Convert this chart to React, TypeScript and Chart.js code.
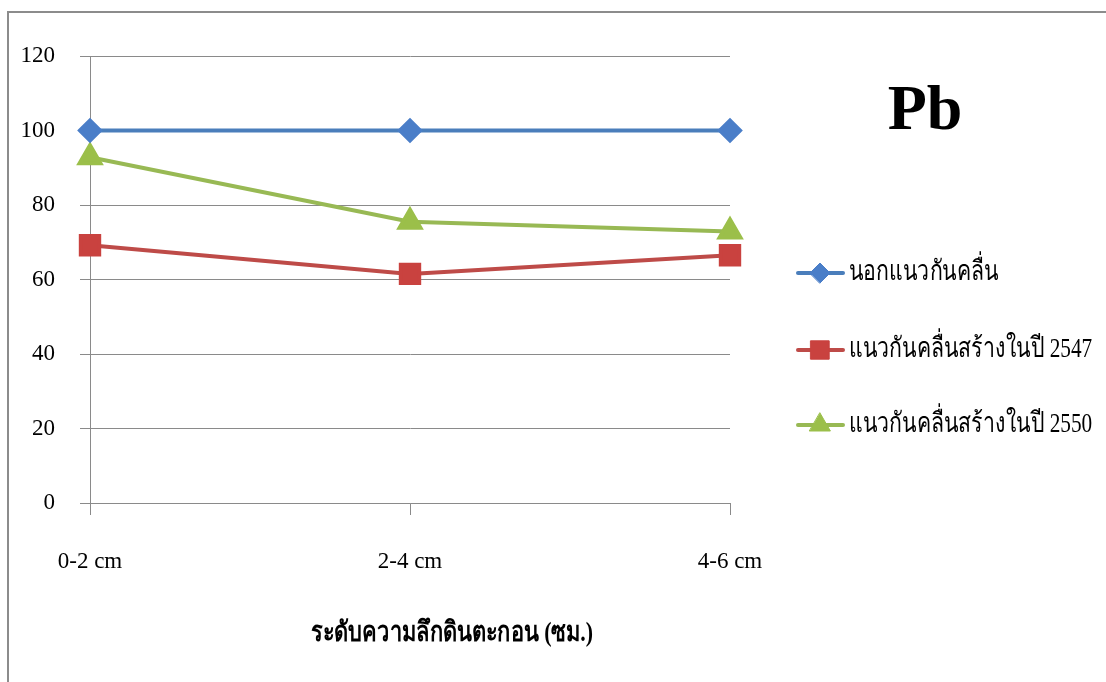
import React, { useEffect, useRef } from "react";
import { Chart, registerables } from "chart.js";
import { drawPoint } from "chart.js/helpers";

Chart.register(...registerables);

// Depth categories and Pb values for each site
const depthLabels = ["0-2 cm", "2-4 cm", "4-6 cm"];
const outsideBreakwater = [100, 100, 100];
const breakwater2547 = [69.2, 61.5, 66.5];
const breakwater2550 = [92.8, 75.5, 72.9];
const seriesNames = [
  "นอกแนวกันคลื่น",
  "แนวกันคลื่นสร้างในปี 2547",
  "แนวกันคลื่นสร้างในปี 2550",
];
const yTickValues = [0, 20, 40, 60, 80, 100, 120];
const chartTitle = "Pb";
const xAxisTitle = "ระดับความลึกดินตะกอน (ซม.)";

const W = 1106;
const H = 682;
const SERIF = '"Liberation Serif", "DejaVu Serif", serif';
const GRID = "#8a8a8a";

// Draws text squeezed horizontally to imitate a condensed face
function condensedText(ctx: CanvasRenderingContext2D, text: string, x: number, y: number, sx: number, align: CanvasTextAlign) {
  ctx.save();
  ctx.translate(x, y);
  ctx.scale(sx, 1);
  ctx.textAlign = align;
  ctx.textBaseline = "middle";
  ctx.fillText(text, 0, 0);
  ctx.restore();
}

const framePlugin = {
  id: "frame",
  beforeDraw(chart: any) {
    const ctx = chart.ctx;
    ctx.save();
    ctx.fillStyle = "#ffffff";
    ctx.fillRect(0, 0, chart.width, chart.height);
    ctx.strokeStyle = "#8c8c8c";
    ctx.lineWidth = 2;
    ctx.beginPath();
    ctx.moveTo(8, chart.height + 2);
    ctx.lineTo(8, 12);
    ctx.lineTo(chart.width + 2, 12);
    ctx.stroke();
    ctx.restore();
  },
};

const annotationsPlugin = {
  id: "annotations",
  afterDraw(chart: any) {
    const ctx = chart.ctx;
    ctx.save();
    // chart title
    ctx.fillStyle = "#000";
    ctx.font = `bold 64px ${SERIF}`;
    ctx.textAlign = "center";
    ctx.textBaseline = "middle";
    ctx.fillText(chartTitle, 925, 112);

    // x-axis title
    ctx.font = `bold 28px ${SERIF}`;
    condensedText(ctx, xAxisTitle, 452, 634, 0.78, "center");

    // legend on the right: line + marker + label
    const rows = [273, 350, 425];
    chart.data.datasets.forEach((ds: any, i: number) => {
      const y = rows[i];
      ctx.strokeStyle = ds.borderColor;
      ctx.lineWidth = ds.borderWidth;
      ctx.lineCap = "round";
      ctx.beginPath();
      ctx.moveTo(798, y);
      ctx.lineTo(843, y);
      ctx.stroke();
      ctx.fillStyle = ds.pointBackgroundColor;
      ctx.strokeStyle = ds.pointBackgroundColor;
      ctx.lineWidth = 1;
      drawPoint(
        ctx,
        { pointStyle: ds.pointStyle, radius: ds.pointRadius, rotation: 0, borderWidth: 1 },
        820,
        y
      );
      ctx.fillStyle = "#000";
      ctx.font = `28px ${SERIF}`;
      condensedText(ctx, ds.label, 849, y, 0.76, "left");
    });
    ctx.restore();
  },
};

export default function App() {
  const ref = useRef<HTMLCanvasElement | null>(null);

  useEffect(() => {
    if (!ref.current) return;
    const chart = new Chart(ref.current, {
      type: "line",
      data: {
        labels: depthLabels,
        datasets: [
          {
            label: seriesNames[0],
            data: outsideBreakwater,
            borderColor: "#4a7ebb",
            backgroundColor: "#4f81bd",
            pointBackgroundColor: "#4a7ec8",
            pointBorderColor: "#4a7ec8",
            borderWidth: 4,
            pointStyle: "rectRot",
            pointRadius: 10,
            tension: 0,
          },
          {
            label: seriesNames[1],
            data: breakwater2547,
            borderColor: "#be4b48",
            backgroundColor: "#c0504d",
            pointBackgroundColor: "#c9423f",
            pointBorderColor: "#c9423f",
            borderWidth: 4,
            pointStyle: "rect",
            pointRadius: 13,
            tension: 0,
          },
          {
            label: seriesNames[2],
            data: breakwater2550,
            borderColor: "#98b954",
            backgroundColor: "#9bbb59",
            pointBackgroundColor: "#9bbf4a",
            pointBorderColor: "#9bbf4a",
            borderWidth: 4,
            pointStyle: "triangle",
            pointRadius: 12,
            tension: 0,
          },
        ],
      },
      options: {
        responsive: false,
        animation: false,
        devicePixelRatio: 1,
        layout: { padding: { left: 0, top: 56, right: W - 730, bottom: 0 } },
        plugins: {
          legend: { display: false },
          tooltip: { enabled: false },
          title: { display: false },
        },
        scales: {
          x: {
            offset: false,
            grid: {
              drawOnChartArea: false,
              drawTicks: true,
              tickLength: 12,
              color: GRID,
              lineWidth: 1,
            },
            border: { display: true, color: GRID, width: 1 },
            ticks: {
              color: "#000",
              padding: 33,
              maxRotation: 0,
              font: { family: SERIF, size: 23 },
            },
            afterFit(scale: any) {
              scale.height = H - 503;
            },
          },
          y: {
            min: 0,
            max: 120,
            afterBuildTicks(scale: any) {
              scale.ticks = yTickValues.map((v) => ({ value: v }));
            },
            grid: {
              color: GRID,
              lineWidth: 1,
              tickLength: 10,
            },
            border: { display: true, color: GRID, width: 1 },
            ticks: {
              color: "#000",
              padding: 25,
              font: { family: SERIF, size: 23 },
            },
            afterFit(scale: any) {
              scale.width = 90;
            },
          },
        },
      },
      plugins: [framePlugin, annotationsPlugin],
    });
    return () => chart.destroy();
  }, []);

  return (
    <div style={{ position: "fixed", left: 0, top: 0, width: W, height: H }}>
      <canvas ref={ref} width={W} height={H} style={{ display: "block" }} />
    </div>
  );
}
